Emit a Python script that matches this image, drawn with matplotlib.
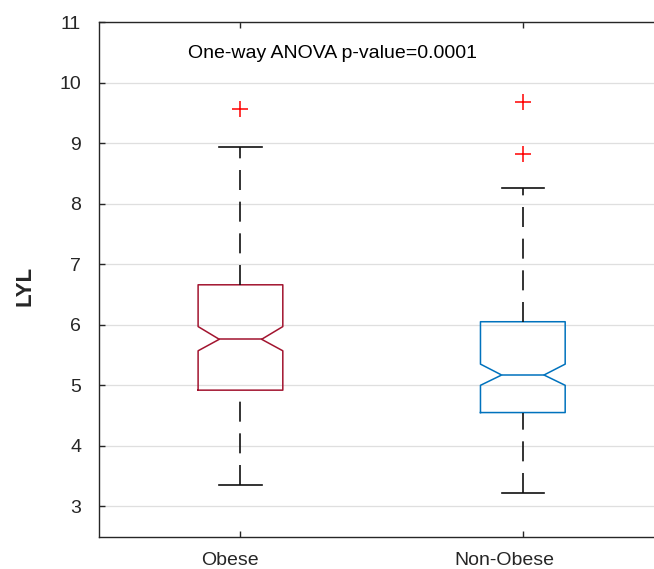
import matplotlib
matplotlib.use("Agg")
import matplotlib.pyplot as plt
import matplotlib.transforms as mtransforms

plt.rcParams["font.family"] = ["Liberation Sans", "DejaVu Sans"]
plt.rcParams["lines.scale_dashes"] = False

# Box statistics
groups   = ["Obese", "Non-Obese"]
medians  = [5.76, 5.17]
q1       = [4.92, 4.55]
q3       = [6.66, 6.05]
ci_lo    = [5.57, 5.00]
ci_hi    = [5.97, 5.35]
whis_lo  = [3.35, 3.22]
whis_hi  = [8.93, 8.26]
outliers = [[9.57], [9.68, 8.82]]
box_colors = ["#A2142F", "#0072BD"]
yticks = [3, 4, 5, 6, 7, 8, 9, 10, 11]

stats = []
for i, name in enumerate(groups):
    stats.append({
        "label": name,
        "med": medians[i], "q1": q1[i], "q3": q3[i],
        "cilo": ci_lo[i], "cihi": ci_hi[i],
        "whislo": whis_lo[i], "whishi": whis_hi[i],
        "fliers": outliers[i],
    })

fig = plt.figure(figsize=(6.54, 5.69), dpi=100)
ax = fig.add_axes([0.1518, 0.0568, 0.8635, 0.9045])

ax.set_axisbelow(True)
ax.yaxis.grid(True, color="#dfdfdf", linewidth=0.9)

res = ax.bxp(
    stats, positions=[1, 2], widths=0.3, shownotches=True, showfliers=True,
    whiskerprops=dict(color="#111111", linewidth=1.2, dashes=(14.4, 8.4)),
    capprops=dict(color="#111111", linewidth=1.2),
    flierprops=dict(marker="+", markeredgecolor="red", markersize=12,
                    markeredgewidth=1.1, linestyle="none"),
)
for i, c in enumerate(box_colors):
    res["boxes"][i].set_color(c)
    res["boxes"][i].set_linewidth(1.1)
    res["medians"][i].set_color(c)
    res["medians"][i].set_linewidth(1.1)
    # lower whisker dashes start at the cap, like the reference
    low = res["whiskers"][2 * i]
    low.set_ydata(list(low.get_ydata())[::-1])

ax.set_xlim(0.5, 2.5)
ax.set_ylim(2.5, 11)
ax.set_yticks(yticks)
ax.set_xticks([1, 2])
ax.set_xticklabels(groups)

ax.tick_params(axis="y", direction="in", length=4, width=1.0, color="#262626",
               labelsize=14, labelcolor="#262626", pad=13)
ax.tick_params(axis="x", direction="in", length=4, width=1.0, color="#262626",
               labelsize=14, labelcolor="#262626", pad=11, top=True)

for s in ["left", "bottom", "top"]:
    ax.spines[s].set_color("#262626")
    ax.spines[s].set_linewidth(1.0)
ax.spines["right"].set_visible(False)

# label offsets as in the reference
for lab, dx in zip(ax.get_xticklabels(), [-0.11, -0.18]):
    lab.set_transform(lab.get_transform() +
                      mtransforms.ScaledTranslation(dx, 0, fig.dpi_scale_trans))

ax.set_ylabel("LYL", fontsize=16, fontweight="bold", color="#262626")
ax.yaxis.label.set_va("center")
ax.yaxis.set_label_coords(-0.1315, 0.4875)

ax.text(0.815, 10.41, "One-way ANOVA p-value=0.0001", fontsize=14,
        ha="left", va="baseline", color="black")

fig.savefig("out.png", dpi=100)
